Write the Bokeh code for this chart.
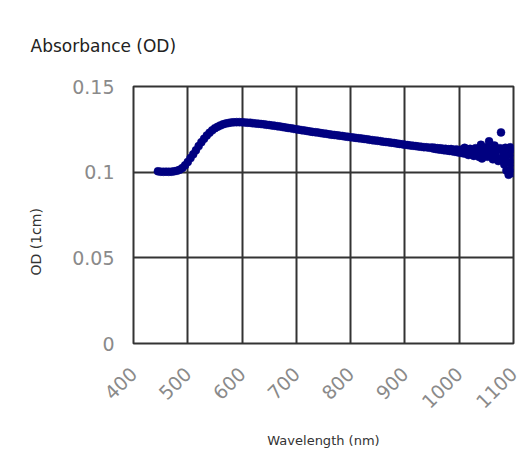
import math
from bokeh.plotting import figure
from bokeh.models import ColumnDataSource, FixedTicker, Title
from bokeh.embed import file_html
from bokeh.resources import INLINE

# ---- data ----
wavelength_main = [445, 450, 455, 460, 465, 470, 475, 480, 485, 490, 495, 500, 505, 510, 515,
                   520, 525, 530, 535, 540, 545, 550, 555, 560, 565, 570, 575, 580, 585, 590,
                   595, 600, 605, 610, 615, 620, 625, 630, 635, 640, 645, 650, 655, 660, 665,
                   670, 675, 680, 685, 690, 695, 700, 705, 710, 715, 720, 725, 730, 735, 740,
                   745, 750, 755, 760, 765, 770, 775, 780, 785, 790, 795, 800, 805, 810, 815,
                   820, 825, 830, 835, 840, 845, 850, 855, 860, 865, 870, 875, 880, 885, 890,
                   895, 900, 905, 910, 915, 920, 925, 930, 935, 940, 945]
od_main = [0.1005, 0.1003, 0.1002, 0.1003, 0.1002, 0.1003, 0.1005, 0.1008, 0.1014, 0.1024,
           0.1040, 0.1060, 0.1082, 0.1104, 0.1128, 0.1152, 0.1175, 0.1195, 0.1214, 0.1230,
           0.1244, 0.1256, 0.1265, 0.1273, 0.1279, 0.1284, 0.1287, 0.1290, 0.1291, 0.1292,
           0.1292, 0.1291, 0.1290, 0.1289, 0.1288, 0.1286, 0.1284, 0.1283, 0.1281, 0.1279,
           0.1277, 0.1275, 0.1273, 0.1271, 0.1268, 0.1266, 0.1263, 0.1261, 0.1258, 0.1256,
           0.1253, 0.1250, 0.1248, 0.1245, 0.1243, 0.1240, 0.1238, 0.1235, 0.1233, 0.1231,
           0.1228, 0.1226, 0.1224, 0.1221, 0.1219, 0.1217, 0.1215, 0.1213, 0.1211, 0.1208,
           0.1206, 0.1204, 0.1202, 0.1200, 0.1198, 0.1196, 0.1194, 0.1192, 0.1189, 0.1187,
           0.1185, 0.1183, 0.1181, 0.1178, 0.1176, 0.1174, 0.1172, 0.1170, 0.1167, 0.1165,
           0.1163, 0.1160, 0.1158, 0.1156, 0.1154, 0.1152, 0.1150, 0.1148, 0.1146, 0.1145,
           0.1143]

wavelength_tail = [950, 952, 955, 957, 960, 962, 965, 967, 970, 972, 975, 977, 980, 982, 985,
                   987, 990, 992, 995, 997, 1000, 1002, 1005, 1007, 1010, 1012, 1015, 1017,
                   1020, 1022, 1025, 1027, 1030, 1032, 1035, 1037, 1040, 1042, 1045, 1047,
                   1050, 1052, 1055, 1057, 1060, 1062, 1065, 1067, 1070, 1072, 1075, 1077,
                   1079, 1081, 1083, 1085, 1087, 1089, 1091, 1093, 1095, 1097, 1099, 1100,
                   1094, 1088, 1096, 1084, 1098]
od_tail = [0.1144, 0.1138, 0.1142, 0.1135, 0.1140, 0.1133, 0.1139, 0.1131, 0.1137, 0.1128,
           0.1136, 0.1127, 0.1134, 0.1124, 0.1135, 0.1122, 0.1131, 0.1119, 0.1133, 0.1116,
           0.1128, 0.1113, 0.1132, 0.1110, 0.1142, 0.1108, 0.1128, 0.1100, 0.1136, 0.1106,
           0.1125, 0.1095, 0.1140, 0.1103, 0.1118, 0.1088, 0.1160, 0.1080, 0.1128, 0.1098,
           0.1145, 0.1090, 0.1180, 0.1112, 0.1135, 0.1075, 0.1155, 0.1095, 0.1128, 0.1065,
           0.1140, 0.1232, 0.1085, 0.1120, 0.1045, 0.1142, 0.1010, 0.1100, 0.0985, 0.1130,
           0.1055, 0.1115, 0.0995, 0.1075, 0.1145, 0.1060, 0.1020, 0.1095, 0.1135]

x_ticks = [400, 500, 600, 700, 800, 900, 1000, 1100]
y_ticks = [0, 0.05, 0.1, 0.15]
y_tick_labels = ["0", "0.05", "0.1", "0.15"]

title_text = "Absorbance (OD)"
x_label_text = "Wavelength (nm)"
y_label_text = "OD (1cm)"

FONT = "DejaVu Sans"
W, H = 528, 468

p = figure(width=W, height=H, x_range=(400, 1100), y_range=(0, 0.15),
           output_backend="svg", toolbar_location=None,
           min_border_left=133, min_border_right=15, min_border_top=86, min_border_bottom=125)

p.background_fill_color = "white"
p.border_fill_color = "white"
p.outline_line_color = "#333333"
p.outline_line_width = 2

src = ColumnDataSource(data=dict(x=wavelength_main + wavelength_tail, y=od_main + od_tail))
p.scatter("x", "y", source=src, size=8, marker="circle", fill_color="#000080",
          line_color="#000080", line_width=0.5)

p.xaxis.ticker = FixedTicker(ticks=x_ticks)
p.yaxis.ticker = FixedTicker(ticks=y_ticks)
p.yaxis.major_label_overrides = {t: l for t, l in zip(y_ticks, y_tick_labels)}
p.xaxis.major_label_orientation = math.pi / 4

for ax in (p.xaxis, p.yaxis):
    ax.axis_line_color = None
    ax.major_tick_line_color = None
    ax.minor_tick_line_color = None
    ax.major_label_text_font = FONT
    ax.major_label_text_font_size = "19px"
    ax.major_label_text_color = "#8a8a8a"
p.yaxis.major_label_standoff = 13
p.xaxis.major_label_standoff = 21

p.xaxis.axis_label = x_label_text
p.xaxis.axis_label_text_font = FONT
p.xaxis.axis_label_text_font_size = "13px"
p.xaxis.axis_label_text_font_style = "normal"
p.xaxis.axis_label_text_color = "#333333"
p.xaxis.axis_label_standoff = 15

p.xgrid.grid_line_color = "#333333"
p.ygrid.grid_line_color = "#333333"
p.xgrid.grid_line_width = 2
p.ygrid.grid_line_width = 2

p.title.text = title_text
p.title.text_font = FONT
p.title.text_font_size = "17px"
p.title.text_font_style = "normal"
p.title.text_color = "#222222"
p.title.align = "left"
p.title.offset = -103
p.title.standoff = 62
p.title.vertical_align = "bottom"

p.add_layout(Title(text=y_label_text, text_font=FONT, text_font_size="14px",
                   text_font_style="normal", text_color="#333333", align="left",
                   offset=68, standoff=51, vertical_align="bottom"), "left")

open("out.html", "w").write(file_html(p, INLINE))
